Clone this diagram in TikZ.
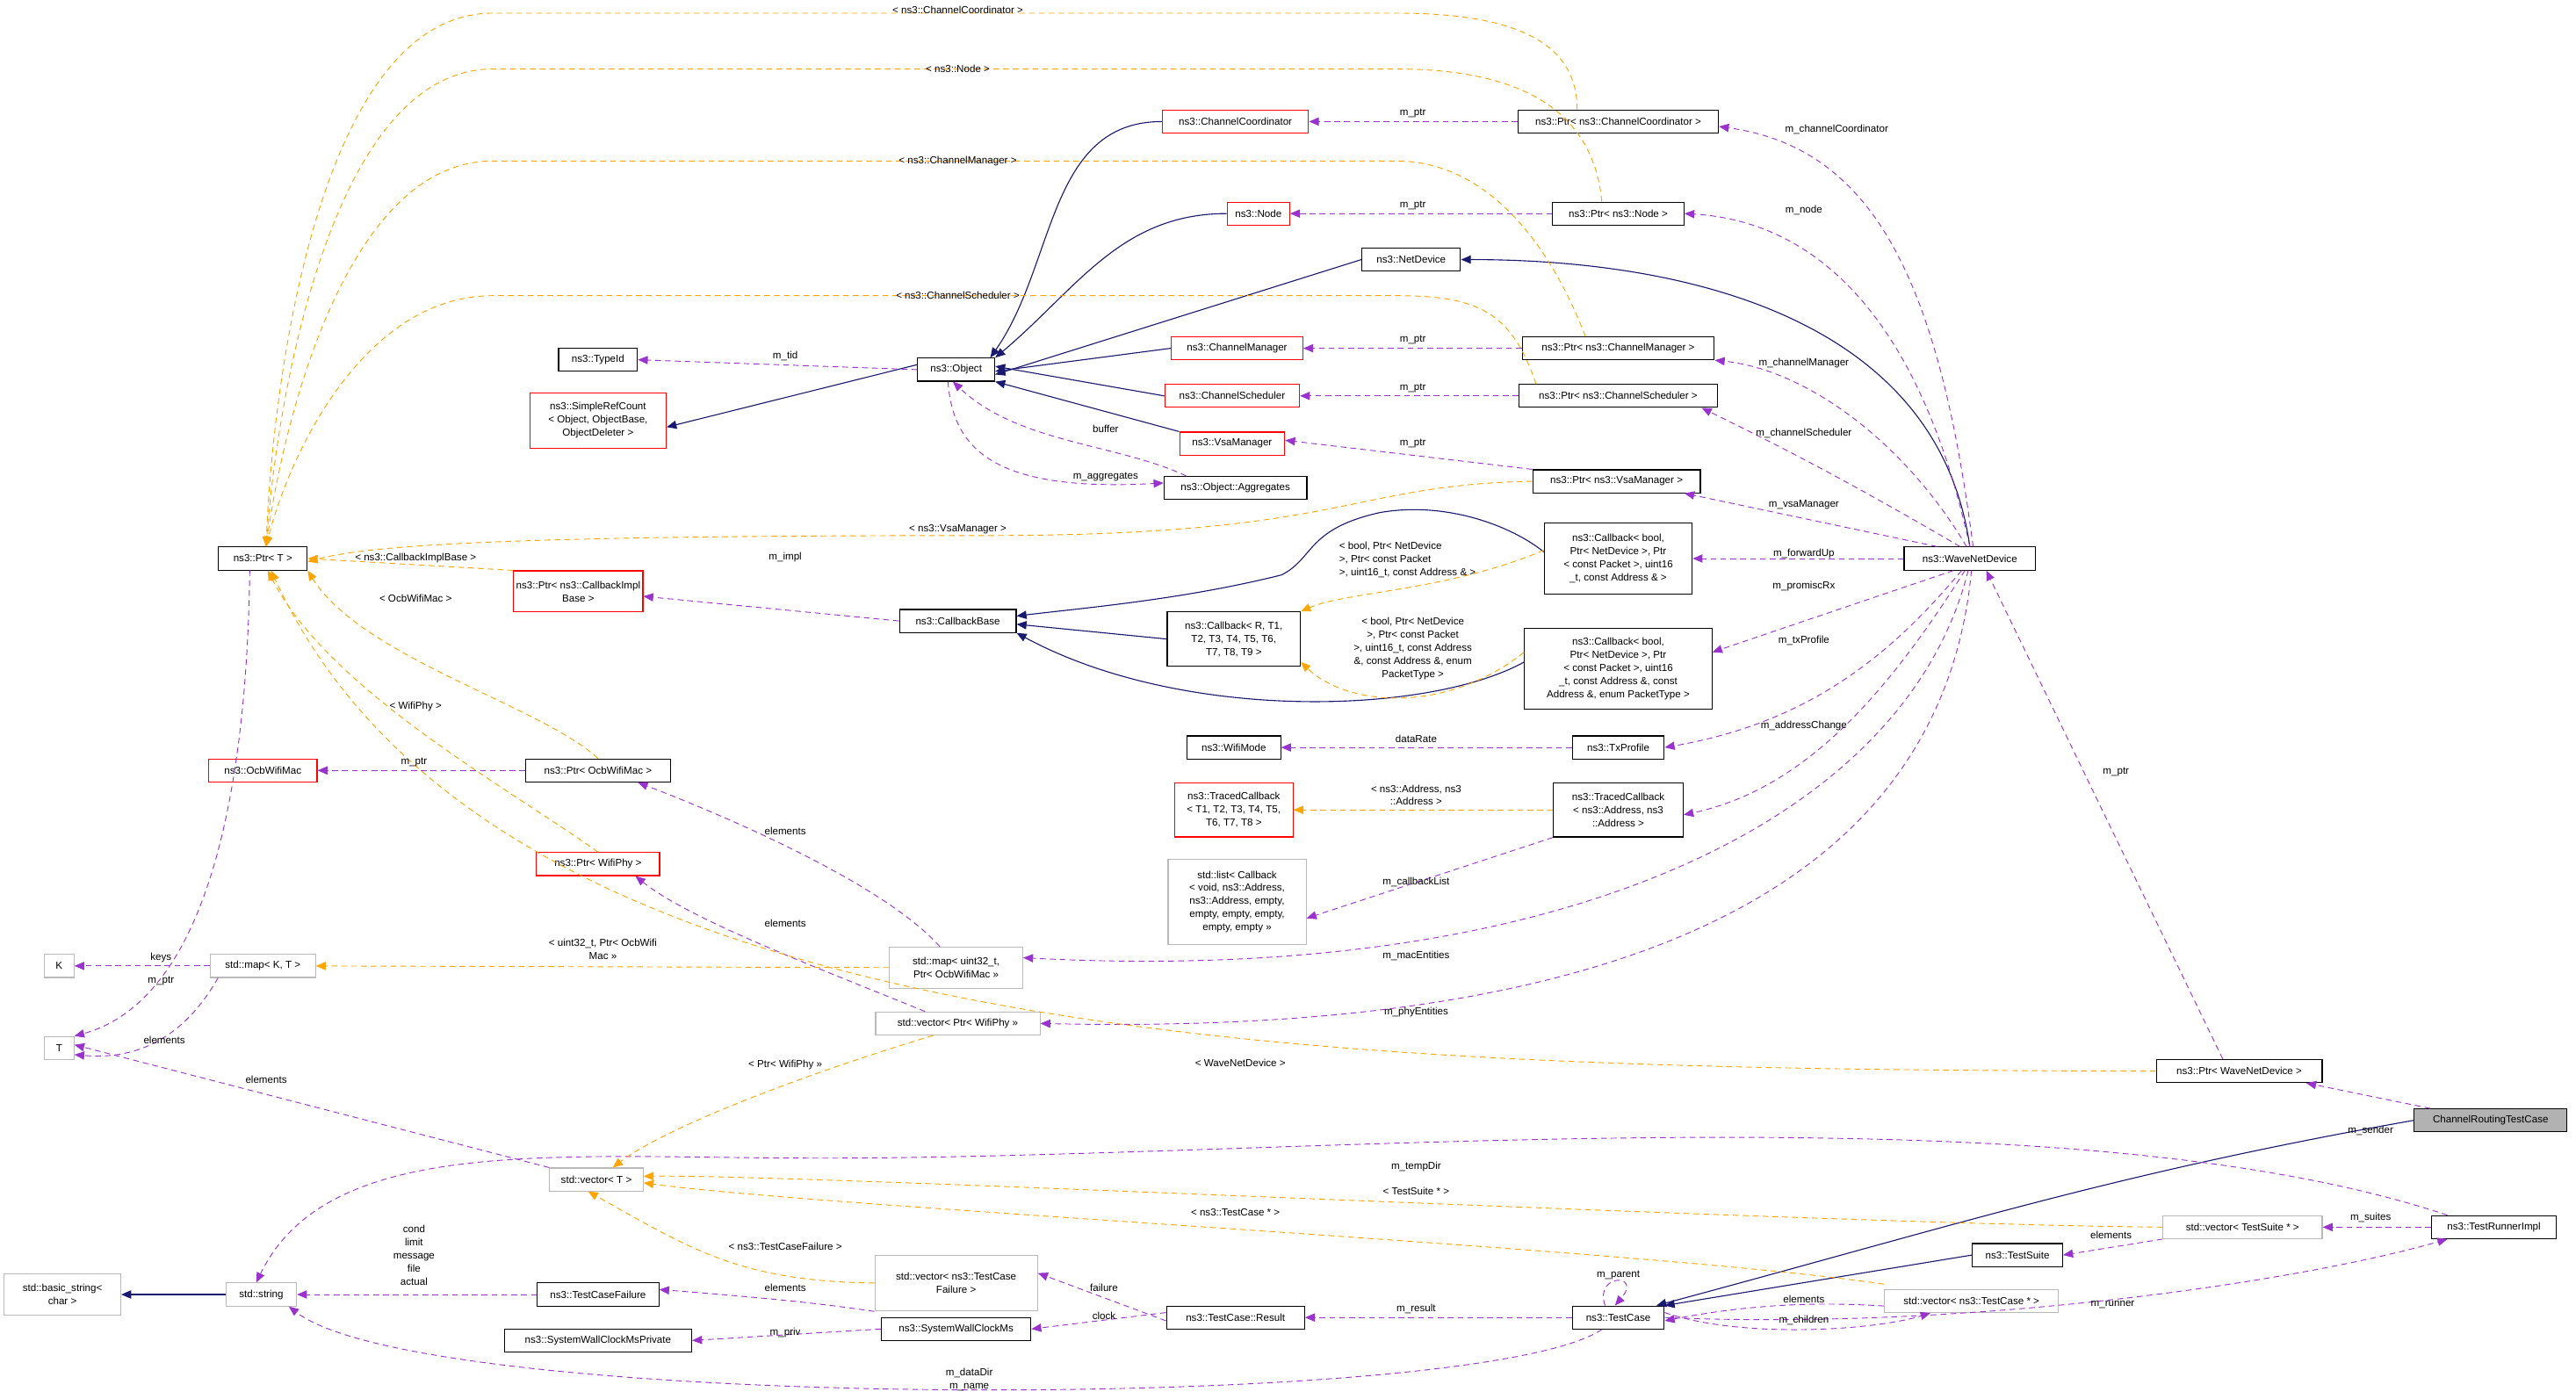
\documentclass[tikz,border=0pt]{standalone}
\usepackage{fontspec}
\setmainfont{Liberation Sans}
\usetikzlibrary{arrows.meta}
\newcommand{\ff}{\fontsize{6.2}{8}\selectfont}
\definecolor{pur}{HTML}{9A32CD}
\definecolor{org}{HTML}{FFA500}
\definecolor{nav}{HTML}{191970}
\tikzset{
 box/.style={draw=black, line width=0.6pt, fill=white, inner sep=1.5pt, minimum height=14pt, font=\ff, align=center},
 rbox/.style={box, draw=red},
 gbox/.style={box, draw=gray!55},
 tip/.style={-{Triangle[length=6pt,width=5pt]}},
 use/.style={tip, draw=pur, line width=0.5pt, dash pattern=on 3.5pt off 2.5pt},
 tmpl/.style={tip, draw=org, line width=0.5pt, dash pattern=on 3.5pt off 2.5pt},
 inh/.style={tip, draw=nav, line width=0.6pt},
 lab/.style={font=\ff, inner sep=0pt, align=center},
}
\begin{document}
\begin{tikzpicture}[x=1pt,y=-1pt]
\useasboundingbox (0,0) rectangle (1568,851.6);
% nodes
\node[rbox,minimum width=89] (CC) at (752,74) {ns3::ChannelCoordinator};
\node[box,minimum width=122] (PCC) at (985,74) {ns3::Ptr< ns3::ChannelCoordinator >};
\node[rbox,minimum width=38] (Node) at (766,130) {ns3::Node};
\node[box,minimum width=80] (PNode) at (985,130) {ns3::Ptr< ns3::Node >};
\node[box,minimum width=60] (ND) at (859,158) {ns3::NetDevice};
\node[box,minimum width=48] (TypeId) at (364,219) {ns3::TypeId};
\node[box,minimum width=47] (Obj) at (582,225) {ns3::Object};
\node[rbox,minimum width=80] (CM) at (753,212) {ns3::ChannelManager};
\node[box,minimum width=117] (PCM) at (985,212) {ns3::Ptr< ns3::ChannelManager >};
\node[rbox,minimum width=83,minimum height=34] (SRC) at (364,256) {ns3::SimpleRefCount\\< Object, ObjectBase,\\ ObjectDeleter >};
\node[rbox,minimum width=82] (CS) at (750,241) {ns3::ChannelScheduler};
\node[box,minimum width=121] (PCS) at (985,241) {ns3::Ptr< ns3::ChannelScheduler >};
\node[rbox,minimum width=64] (Vsa) at (750,270) {ns3::VsaManager};
\node[box,minimum width=87] (Agg) at (752,297) {ns3::Object::Aggregates};
\node[box,minimum width=102] (PVsa) at (984,293) {ns3::Ptr< ns3::VsaManager >};
\node[box,minimum width=54] (PT) at (160,340) {ns3::Ptr< T >};
\node[box,minimum width=80] (WND) at (1199,340) {ns3::WaveNetDevice};
\node[rbox,minimum width=71,minimum height=25] (PCIB) at (352,360) {ns3::Ptr< ns3::CallbackImpl\\Base >};
\node[box,minimum width=71] (CBB) at (583,378) {ns3::CallbackBase};
\node[box,minimum width=90,minimum height=43] (CB1) at (985,340) {ns3::Callback< bool,\\ Ptr< NetDevice >, Ptr\\< const Packet >, uint16\\\_t, const Address \& >};
\node[box,minimum width=81,minimum height=33] (CR) at (751,389) {ns3::Callback< R, T1,\\ T2, T3, T4, T5, T6,\\ T7, T8, T9 >};
\node[box,minimum width=114,minimum height=49] (CB2) at (985,407) {ns3::Callback< bool,\\ Ptr< NetDevice >, Ptr\\< const Packet >, uint16\\\_t, const Address \&, const\\ Address \&, enum PacketType >};
\node[box,minimum width=57] (WM) at (751,455) {ns3::WifiMode};
\node[box,minimum width=56] (TxP) at (985,455) {ns3::TxProfile};
\node[rbox,minimum width=72,minimum height=33] (TC1) at (751,493) {ns3::TracedCallback\\< T1, T2, T3, T4, T5,\\ T6, T7, T8 >};
\node[box,minimum width=79,minimum height=33] (TC2) at (985,493) {ns3::TracedCallback\\< ns3::Address, ns3\\::Address >};
\node[gbox,minimum width=84,minimum height=52] (List) at (753,549) {std::list< Callback\\< void, ns3::Address,\\ ns3::Address, empty,\\ empty, empty, empty,\\ empty, empty >>};
\node[rbox,minimum width=66] (Ocb) at (160,469) {ns3::OcbWifiMac};
\node[box,minimum width=88] (POcb) at (364,469) {ns3::Ptr< OcbWifiMac >};
\node[rbox,minimum width=75] (PWP) at (364,526) {ns3::Ptr< WifiPhy >};
\node[gbox,minimum width=81,minimum height=25] (MapU) at (582,589) {std::map< uint32\_t,\\ Ptr< OcbWifiMac >>};
\node[gbox,minimum width=18] (K) at (36,588) {K};
\node[gbox,minimum width=64] (MapKT) at (160,588) {std::map< K, T >};
\node[gbox,minimum width=18] (T) at (36,638) {T};
\node[gbox,minimum width=100] (VWP) at (583,623) {std::vector< Ptr< WifiPhy >>};
\node[box,minimum width=101] (PWND) at (1363,652) {ns3::Ptr< WaveNetDevice >};
\node[box,fill=gray!60,minimum width=93] (CRTC) at (1516,682) {ChannelRoutingTestCase};
\node[gbox,minimum width=57] (VT) at (363,718) {std::vector< T >};
\node[gbox,minimum width=97] (VTS) at (1365,747) {std::vector< TestSuite * >};
\node[box,minimum width=76] (TR) at (1518,747) {ns3::TestRunnerImpl};
\node[box,minimum width=55] (TS) at (1228,764) {ns3::TestSuite};
\node[gbox,minimum width=71,minimum height=25] (BS) at (38,788) {std::basic\_string<\\ char >};
\node[gbox,minimum width=43] (Str) at (159,788) {std::string};
\node[box,minimum width=74] (TCF) at (364,788) {ns3::TestCaseFailure};
\node[gbox,minimum width=99,minimum height=34] (VTCF) at (582,781) {std::vector< ns3::TestCase\\ Failure >};
\node[gbox,minimum width=106] (VTC) at (1200,792) {std::vector< ns3::TestCase * >};
\node[box,minimum width=56] (TCs) at (985,802) {ns3::TestCase};
\node[box,minimum width=84] (Res) at (752,802) {ns3::TestCase::Result};
\node[box,minimum width=91] (SWC) at (582,809) {ns3::SystemWallClockMs};
\node[box,minimum width=114] (SWCP) at (364,816) {ns3::SystemWallClockMsPrivate};

% inheritance
\draw[inh] (CC.west) to[out=180,in=55] ([xshift=-3]Obj.north east);
\draw[inh] (Node.west) to[out=180,in=40] (Obj.north east);
\draw[inh] (ND.west) -- ([yshift=-3]Obj.east);
\draw[inh] (CM.west) -- ([yshift=-1]Obj.east);
\draw[inh] (CS.west) -- ([yshift=2]Obj.east);
\draw[inh] (Vsa.north west) -- (Obj.south east);
\draw[inh] ([yshift=3]Obj.west) -- ([yshift=-4]SRC.east);
\draw[inh] (WND.north) to[out=98,in=0] (ND.east);
\draw[inh] ([yshift=4]CB1.west) .. controls (920,320) and (880,305) .. (840,312) .. controls (795,322) and (800,340) .. (780,350) .. controls (720,365) and (660,370) .. ([yshift=3]CBB.east);
\draw[inh] (CR.west) -- ([yshift=-2]CBB.east);
\draw[inh] ([yshift=4]CB2.west) .. controls (870,435) and (720,440) .. (CBB.south east);
\draw[inh] (CRTC.west) to[out=190,in=15] ([xshift=-5]TCs.north east);
\draw[inh] (TS.west) -- (TCs.north east);
\draw[inh] (Str.west) -- (BS.east);

% usage
\draw[use] (PCC.west) -- (CC.east);
\draw[use] (PNode.west) -- (Node.east);
\draw[use] (PCM.west) -- (CM.east);
\draw[use] (PCS.west) -- (CS.east);
\draw[use] (PVsa.north west) -- ([yshift=2]Vsa.east);
\draw[use] (Obj.west) -- (TypeId.east);
\draw[use] ([xshift=-5]Obj.south) .. controls (580,270) and (600,300) .. ([yshift=3]Agg.west);
\draw[use] ([xshift=-30]Agg.north) .. controls (680,270) and (620,270) .. ([xshift=-2]Obj.south);
\draw[use] (CBB.west) -- ([yshift=-3]PCIB.east);
\draw[use] (POcb.west) -- (Ocb.east);
\draw[use] ([xshift=-10]MapU.north) .. controls (540,540) and (450,500) .. ([xshift=-20]POcb.south east);
\draw[use] ([xshift=-20]VWP.north) .. controls (500,590) and (420,560) .. ([xshift=-15]PWP.south east);
\draw[use] ([xshift=2]WND.north) .. controls (1180,170) and (1140,90) .. ([yshift=-3]PCC.east);
\draw[use] ([xshift=0]WND.north) .. controls (1170,200) and (1110,135) .. (PNode.east);
\draw[use] ([xshift=-2]WND.north) .. controls (1160,270) and (1100,225) .. (PCM.south east);
\draw[use] ([xshift=-6]WND.north) .. controls (1120,290) and (1080,270) .. ([xshift=-10]PCS.south east);
\draw[use] ([xshift=-20]WND.north) -- ([xshift=-10]PVsa.south east);
\draw[use] (WND.west) -- (CB1.east);
\draw[use] ([xshift=-10]WND.south) -- ([yshift=10]CB2.east);
\draw[use] ([xshift=-5]WND.south) .. controls (1150,400) and (1100,440) .. (TxP.east);
\draw[use] ([xshift=-3]WND.south) .. controls (1150,420) and (1100,480) .. ([yshift=-3]TC2.east);
\draw[use] ([xshift=-1]WND.south) .. controls (1160,500) and (950,600) .. ([yshift=6]MapU.east);
\draw[use] ([xshift=1]WND.south) .. controls (1180,560) and (950,630) .. (VWP.east);
\draw[use] (TxP.west) -- (WM.east);
\draw[use] (TC2.south west) -- ([yshift=-10]List.east);
\draw[use] ([xshift=-10]PWND.north) -- ([xshift=10]WND.south);
\draw[use] ([xshift=10]CRTC.north west) -- ([xshift=-10]PWND.south east);
\draw[use] (TR.west) -- (VTS.east);
\draw[use] (VTS.south west) -- (TS.east);
\draw[use] ([xshift=10]TR.north west) .. controls (1250,660) and (800,705) .. (500,705) .. controls (340,705) and (200,690) .. ([xshift=-3]Str.north);
\draw[use] (TCs.east) .. controls (1200,810) and (1400,780) .. ([xshift=10]TR.south west);
\draw[use] ([xshift=-8]TCs.north) .. controls (970,775) and (1000,775) .. ([xshift=-2]TCs.north);
\draw[use] ([yshift=3]TCs.east) .. controls (1060,815) and (1140,810) .. ([xshift=-25]VTC.south);
\draw[use] ([yshift=-3]VTC.west) .. controls (1100,792) and (1060,795) .. ([yshift=-2]TCs.east);
\draw[use] (TCs.west) -- (Res.east);
\draw[use] ([yshift=-2]Res.west) -- ([yshift=6]VTCF.east);
\draw[use] ([yshift=3]Res.west) -- (SWC.east);
\draw[use] (SWC.west) -- (SWCP.east);
\draw[use] (VTCF.south west) .. controls (510,795) and (480,791) .. ([yshift=3]TCF.east);
\draw[use] (TCF.west) -- (Str.east);
\draw[use] ([xshift=-10]TCs.south) .. controls (900,860) and (260,860) .. ([xshift=-5]Str.south east);
\draw[use] (VT.north west) -- ([yshift=2]T.east);
\draw[use] ([xshift=-8]PT.south) .. controls (150,500) and (120,610) .. (T.north east);
\draw[use] ([xshift=5]MapKT.south west) .. controls (110,635) and (80,645) .. ([yshift=-4]T.east);
\draw[use] (MapKT.west) -- (K.east);

% template
\draw[tmpl] (MapU.west) -- (MapKT.east);
\draw[tmpl] ([xshift=-15]VWP.south) .. controls (470,660) and (400,690) .. ([xshift=10]VT.north);
\draw[tmpl] (VTS.west) .. controls (1100,745) and (500,715) .. ([yshift=2]VT.east);
\draw[tmpl] ([yshift=3]VTC.north west) .. controls (1000,760) and (500,735) .. ([yshift=-2]VT.east);
\draw[tmpl] (VTCF.west) .. controls (450,780) and (420,760) .. ([xshift=-5]VT.south);
\draw[tmpl] (PWND.west) .. controls (800,651) and (300,640) .. ([xshift=5]PT.south);
\draw[tmpl] (PWP.north) .. controls (310,480) and (200,420) .. ([xshift=3]PT.south);
\draw[tmpl] (POcb.north) .. controls (330,430) and (220,400) .. (PT.south east);
\draw[tmpl] (PCIB.north west) -- (PT.east);
\draw[tmpl] (PVsa.west) .. controls (820,295) and (820,326) .. (600,326) .. controls (350,326) and (230,330) .. ([yshift=-2]PT.east);
\draw[tmpl] ([xshift=-50]PCS.north) .. controls (920,190) and (900,180) .. (850,180) -- (300,180) .. controls (220,180) and (175,280) .. ([xshift=2]PT.north);
\draw[tmpl] ([xshift=-20]PCM.north) .. controls (940,140) and (900,98) .. (850,98) -- (300,98) .. controls (210,98) and (172,260) .. ([xshift=2]PT.north);
\draw[tmpl] ([xshift=-10]PNode.north) .. controls (970,70) and (930,42) .. (850,42) -- (300,42) .. controls (200,42) and (168,250) .. ([xshift=2]PT.north);
\draw[tmpl] ([xshift=-25]PCC.north) .. controls (960,30) and (930,8) .. (850,8) -- (300,8) .. controls (190,8) and (165,250) .. ([xshift=2]PT.north);
\draw[tmpl] ([yshift=5]CB1.west) .. controls (880,360) and (820,360) .. (CR.north east);
\draw[tmpl] ([yshift=10]CB2.west) .. controls (880,435) and (820,430) .. ([yshift=-14]CR.east);
\draw[tmpl] (TC2.west) -- (TC1.east);

% labels
\node[lab] at (583,6) {< ns3::ChannelCoordinator >};
\node[lab] at (583,42) {< ns3::Node >};
\node[lab] at (583,98) {< ns3::ChannelManager >};
\node[lab] at (583,180) {< ns3::ChannelScheduler >};
\node[lab] at (583,322) {< ns3::VsaManager >};
\node[lab] at (253,340) {< ns3::CallbackImplBase >};
\node[lab] at (253,364) {< OcbWifiMac >};
\node[lab] at (253,430) {< WifiPhy >};
\node[lab] at (755,647) {< WaveNetDevice >};
\node[lab] at (367,578) {< uint32\_t, Ptr< OcbWifi\\Mac >>};
\node[lab] at (478,648) {< Ptr< WifiPhy >>};
\node[lab] at (862,725) {< TestSuite * >};
\node[lab] at (752,738) {< ns3::TestCase * >};
\node[lab] at (478,759) {< ns3::TestCaseFailure >};
\node[lab] at (478,217) {m\_tid};
\node[lab] at (673,261) {buffer};
\node[lab] at (673,290) {m\_aggregates};
\node[lab] at (860,69) {m\_ptr};
\node[lab] at (860,125) {m\_ptr};
\node[lab] at (860,207) {m\_ptr};
\node[lab] at (860,236) {m\_ptr};
\node[lab] at (860,270) {m\_ptr};
\node[lab] at (478,339) {m\_impl};
\node[lab] at (252,464) {m\_ptr};
\node[lab] at (478,506) {elements};
\node[lab] at (478,562) {elements};
\node[lab] at (98,583) {keys};
\node[lab] at (98,597) {m\_ptr};
\node[lab] at (100,633) {elements};
\node[lab] at (162,657) {elements};
\node[lab,align=left,anchor=west] at (815,341) {< bool, Ptr< NetDevice\\>, Ptr< const Packet\\>, uint16\_t, const Address \& >};
\node[lab,align=center] at (860,395) {< bool, Ptr< NetDevice\\>, Ptr< const Packet\\>, uint16\_t, const Address\\\&, const Address \&, enum\\PacketType >};
\node[lab] at (862,484) {< ns3::Address, ns3\\::Address >};
\node[lab] at (862,450) {dataRate};
\node[lab] at (862,537) {m\_callbackList};
\node[lab] at (1118,79) {m\_channelCoordinator};
\node[lab] at (1098,128) {m\_node};
\node[lab] at (1098,221) {m\_channelManager};
\node[lab] at (1098,264) {m\_channelScheduler};
\node[lab] at (1098,307) {m\_vsaManager};
\node[lab] at (1098,337) {m\_forwardUp};
\node[lab] at (1098,357) {m\_promiscRx};
\node[lab] at (1098,390) {m\_txProfile};
\node[lab] at (1098,442) {m\_addressChange};
\node[lab] at (862,582) {m\_macEntities};
\node[lab] at (862,616) {m\_phyEntities};
\node[lab] at (1288,470) {m\_ptr};
\node[lab] at (1443,688) {m\_sender};
\node[lab] at (862,710) {m\_tempDir};
\node[lab] at (1443,741) {m\_suites};
\node[lab] at (1285,752) {elements};
\node[lab] at (1286,794) {m\_runner};
\node[lab] at (985,776) {m\_parent};
\node[lab] at (1098,791) {elements};
\node[lab] at (1098,804) {m\_children};
\node[lab] at (862,797) {m\_result};
\node[lab] at (672,784) {failure};
\node[lab] at (672,801) {clock};
\node[lab] at (478,811) {m\_priv};
\node[lab] at (478,784) {elements};
\node[lab] at (252,764) {cond\\limit\\message\\file\\actual};
\node[lab] at (590,840) {m\_dataDir\\m\_name};
\end{tikzpicture}
\end{document}
